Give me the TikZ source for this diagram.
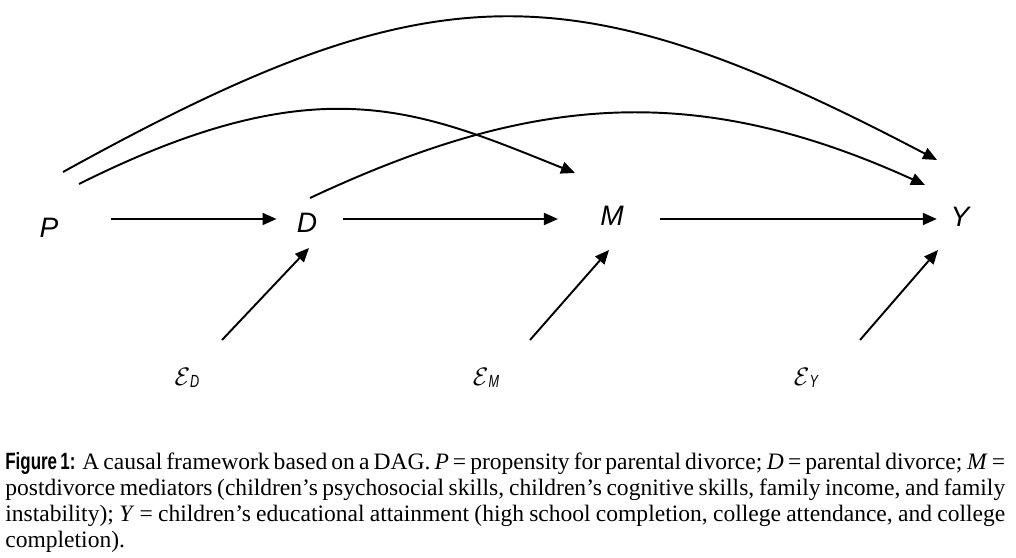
\documentclass[tikz,border=0pt]{standalone}
\usepackage{fontspec}
\setmainfont{Liberation Serif}
\newfontfamily\dagfont{Liberation Sans}
\newfontfamily\narrowfont[FakeStretch=0.72]{Liberation Sans}
\usetikzlibrary{arrows.meta, positioning, calc}
\newcommand{\errterm}[1]{$\mathcal{E}$\raisebox{-1pt}{\narrowfont\itshape\fontsize{10}{11}\selectfont #1}}

\begin{document}
\begin{tikzpicture}[
  x=0.02cm, y=-0.02cm,
  var/.style  = {inner sep=0pt, font=\dagfont\itshape\fontsize{16}{19}\selectfont},
  err/.style  = {inner sep=0pt, font=\fontsize{13.5}{15}\selectfont},
  arc/.style  = {-{Triangle[length=0.28cm, width=0.24cm]}, line width=1.1pt},
  caption/.style = {inner sep=0pt, anchor=north west, text width=20cm,
                    align=justify, font=\fontsize{13.4}{14.74}\selectfont}
]
  \useasboundingbox (0,0) rectangle (1016,557);
  \coordinate (axis) at (0,219);

  % variables
  \node[var] (P) at (49,228)  {P};
  \node[var] (D) at (307,223) {D};
  \node[var] (M) at (612,216) {M};
  \node[var] (Y) at (960,217) {Y};

  % error terms
  \node[err] (eD) at (187,378) {\errterm{D}};
  \node[err] (eM) at (486,378) {\errterm{M}};
  \node[err] (eY) at (806,378) {\errterm{Y}};

  % main chain
  \draw[arc, shorten <=1.05cm, shorten >=0.4cm]  (P.east |- axis) -- (D.west |- axis);
  \draw[arc, shorten <=0.5cm,  shorten >=0.84cm] (D.east |- axis) -- (M.west |- axis);
  \draw[arc, shorten <=0.72cm, shorten >=0.27cm] (M.east |- axis) -- (Y.west |- axis);

  % disturbances
  \draw[arc] ([shift={(35,-38)}]eD.center) -- ([shift={(2,25)}]D.center);
  \draw[arc] ([shift={(44,-38)}]eM.center) -- ([shift={(-3,34)}]M.center);
  \draw[arc] ([shift={(54,-38)}]eY.center) -- ([shift={(-22,33)}]Y.center);

  % long-range paths
  \draw[arc] ([shift={(14,-56)}]P.center)
    .. controls (432,-32) and (569,-33) .. ([shift={(-23,-57)}]Y.center);
  \draw[arc] ([shift={(30,-44)}]P.center)
    .. controls (319,64) and (418,110) .. ([shift={(-37,-43)}]M.center);
  \draw[arc] ([shift={(3,-25)}]D.center)
    .. controls (530,95) and (694,80) .. ([shift={(-35,-32)}]Y.center);

  \node[caption] (cap) at (5,452) {{\narrowfont\bfseries Figure 1:} A causal
    framework based on a DAG. \textit{P} = propensity for parental divorce;
    \textit{D} = parental divorce; \textit{M} =\linebreak postdivorce mediators
    (children’s psychosocial skills, children’s cognitive skills, family income,
    and family\linebreak instability); \textit{Y} = children’s educational
    attainment (high school completion, college attendance, and
    college\linebreak completion).};
\end{tikzpicture}
\end{document}
